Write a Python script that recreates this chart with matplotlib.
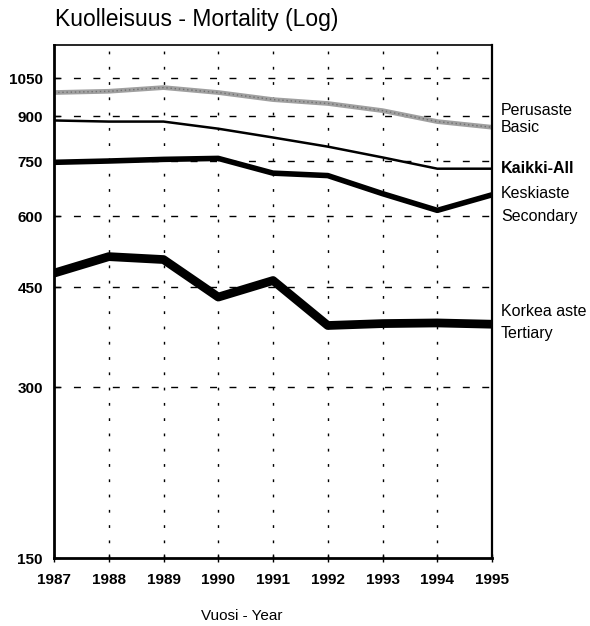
import matplotlib
matplotlib.use('Agg')
import matplotlib.pyplot as plt
from matplotlib.ticker import FixedLocator, NullLocator

plt.rcParams['font.family'] = ['Liberation Sans Narrow', 'Liberation Sans', 'DejaVu Sans']

# Data
years = [1987, 1988, 1989, 1990, 1991, 1992, 1993, 1994, 1995]
perusaste = [990, 995, 1010, 990, 962, 947, 920, 880, 860]
kaikki = [884, 880, 880, 855, 825, 795, 761, 727, 727]
keskiaste = [746, 750, 755, 758, 714, 707, 657, 614, 654]
korkea = [476, 509, 503, 432, 462, 385, 388, 389, 387]
y_ticks = [150, 300, 450, 600, 750, 900, 1050]

fig = plt.figure(figsize=(5.9, 6.26), dpi=100)
ax = fig.add_axes([0.0915, 0.1086, 0.7425, 0.8194])

ax.plot(years, perusaste, color='#a0a0a0', lw=3.4, solid_capstyle='butt')
ax.plot(years, perusaste, color='#707070', lw=1.0, ls=(0, (1, 2)))
ax.plot(years, kaikki, color='black', lw=1.8)
ax.plot(years, keskiaste, color='black', lw=4.0)
ax.plot(years, korkea, color='black', lw=6.3)

ax.set_yscale('log')
ax.set_ylim(150, 1200)
ax.set_xlim(1987, 1995)
ax.yaxis.set_major_locator(FixedLocator(y_ticks))
ax.yaxis.set_minor_locator(NullLocator())
ax.set_yticklabels([str(v) for v in y_ticks], fontsize=11, fontweight='bold')
ax.set_xticks(years)
ax.set_xticklabels([str(y) for y in years], fontsize=11, fontweight='bold')

# grid: dashed horizontal, dotted vertical
for v in y_ticks[1:]:
    ax.axhline(v, color='black', lw=1.0, ls=(0, (5, 9)), zorder=0)
for y in years[1:-1]:
    ax.axvline(y, color='black', lw=1.0, ls=(0, (2, 9)), zorder=0)

for side in ['left', 'bottom']:
    ax.spines[side].set_linewidth(2.0)
ax.spines['right'].set_linewidth(1.6)
ax.spines['top'].set_linewidth(1.2)
ax.tick_params(axis='x', direction='inout', length=6, width=1, pad=8)
ax.tick_params(axis='y', direction='in', length=4, width=1, pad=8)

fig.text(0.093, 0.95, 'Kuolleisuus - Mortality (Log)', fontsize=16.5, ha='left', va='bottom')
fig.text(0.41, 0.005, 'Vuosi - Year', fontsize=11, ha='center', va='bottom')

# series labels at right
lab = dict(transform=ax.get_yaxis_transform(), fontsize=11.5, ha='left', va='center', clip_on=False)
ax.text(1.02, 920, 'Perusaste', **lab)
ax.text(1.02, 860, 'Basic', **lab)
ax.text(1.02, 727, 'Kaikki-All', fontweight='bold', **lab)
ax.text(1.02, 658, 'Keskiaste', **lab)
ax.text(1.02, 600, 'Secondary', **lab)
ax.text(1.02, 408, 'Korkea aste', **lab)
ax.text(1.02, 373, 'Tertiary', **lab)

fig.savefig('out.png', dpi=100)
